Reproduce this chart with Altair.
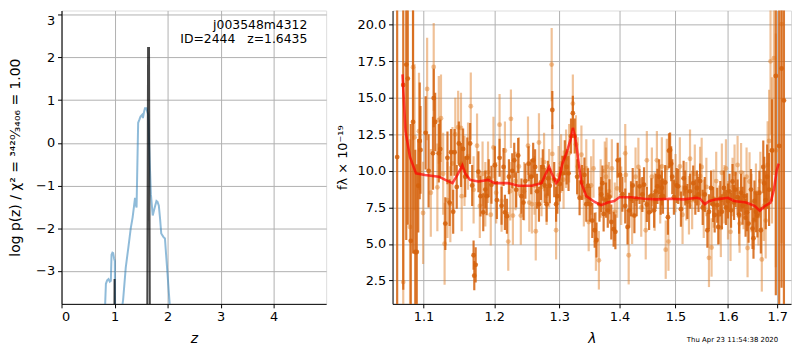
import altair as alt
import pandas as pd

# ---------------- Left panel: p(z) ----------------
pz_z = [0.78, 0.81, 0.837, 0.86, 0.886, 0.91, 0.93, 0.943, 0.96, 0.974, 0.99, 1.005, 1.012, 1.02,
        1.06, 1.10, 1.136, 1.161, 1.211, 1.26, 1.305, 1.34, 1.367, 1.386, 1.40, 1.415, 1.445,
        1.47, 1.49, 1.52, 1.535, 1.555, 1.573, 1.60, 1.615, 1.635, 1.665, 1.685, 1.72, 1.75,
        1.79, 1.81, 1.835, 1.86, 1.88, 1.92, 1.95, 2.04, 2.06]
pz_logp = [-6.0, -4.2, -3.30, -3.22, -3.19, -3.25, -3.23, -2.62, -2.57, -2.58, -2.70, -2.77, -4.5, -6.0,
           -7.0, -6.0, -3.9, -3.68, -2.92, -2.45, -2.0, -1.75, -1.48, -1.29, -1.45, -1.51, 0.47,
           0.55, 0.62, 0.66, 0.58, 0.72, 0.81, 0.81, 0.74, 0.66, -0.5, -1.2, -1.70, -1.55,
           -1.36, -1.38, -1.47, -1.8, -2.12, -2.2, -2.24, -3.78, -4.5]

fine_z = [0.99, 1.0, 1.01, 1.612, 1.632, 1.650, 1.670]
fine_logp = [-6.0, -3.19, -6.0, -6.0, 2.22, 2.22, -6.0]
fine_grp = [0, 0, 0, 1, 1, 1, 1]

label_lines = ["j003548m4312", "ID=2444\u00a0\u00a0\u00a0z=1.6435"]

# ---------------- Right panel: spectrum ----------------
wave_a = [1.065, 1.073, 1.077, 1.079, 1.083, 1.086, 1.089, 1.091, 1.093, 1.095, 1.096, 1.103, 1.107,
          1.113, 1.114, 1.116, 1.121, 1.123, 1.130, 1.133, 1.136, 1.138, 1.141, 1.143, 1.146, 1.149,
          1.152, 1.155, 1.158, 1.161, 1.165, 1.168, 1.170, 1.171, 1.173, 1.177, 1.180, 1.184, 1.187,
          1.189, 1.192, 1.196, 1.201, 1.204, 1.208, 1.211, 1.214, 1.216, 1.219, 1.222, 1.227, 1.230,
          1.233, 1.236, 1.241, 1.244, 1.247, 1.252, 1.256, 1.259, 1.262, 1.265, 1.268, 1.271, 1.274,
          1.277, 1.280, 1.282, 1.285, 1.289, 1.292, 1.295, 1.297, 1.301, 1.305, 1.309, 1.312, 1.315,
          1.319, 1.322, 1.325, 1.329, 1.333, 1.337, 1.341, 1.344, 1.347, 1.350, 1.354, 1.358, 1.361,
          1.366, 1.369, 1.371, 1.373, 1.377, 1.380, 1.383, 1.386, 1.390, 1.393, 1.397, 1.401, 1.405,
          1.410, 1.414, 1.417, 1.420, 1.423, 1.426, 1.430, 1.435, 1.440, 1.443, 1.448, 1.452, 1.456,
          1.461, 1.464, 1.467, 1.470, 1.473, 1.475, 1.477, 1.481, 1.486, 1.488, 1.490, 1.492, 1.494,
          1.497, 1.502, 1.505, 1.510, 1.515, 1.518, 1.522, 1.527, 1.533, 1.537, 1.540, 1.543, 1.546,
          1.551, 1.555, 1.560, 1.563, 1.567, 1.571, 1.574, 1.579, 1.581, 1.585, 1.588, 1.592, 1.596,
          1.600, 1.603, 1.606, 1.609, 1.612, 1.615, 1.619, 1.622, 1.626, 1.629, 1.633, 1.635, 1.638,
          1.641, 1.646, 1.649, 1.651, 1.653, 1.656, 1.659, 1.663, 1.666, 1.671, 1.673, 1.676, 1.679,
          1.683, 1.689, 1.697, 1.704, 1.709, 1.714]
flux_a = [10.94, 15.87, 17.27, 16.31, 5.21, 13.34, 4.45, 4.45, 8.98, 12.05, 11.43, 12.60, 10.0,
          11.20, 14.98, 13.34, 11.20, 11.49, 6.39, 10.89, 7.83, 11.27, 7.2, 11.27, 8.9, 11.87,
          10.4, 11.5, 9.6, 10.89, 11.87, 9.0, 4.23, 2.83, 3.57, 9.94, 8.27, 7.16, 8.72,
          8.27, 9.5, 9.05, 10.38, 8.0, 10.89, 7.61, 10.27, 7.16, 6.90, 9.6, 10.0, 10.72,
          8.7, 11.05, 8.27, 7.83, 9.3, 10.49, 9.6, 10.72, 10.27, 8.6, 7.72, 9.2, 10.27,
          9.0, 7.72, 9.49, 8.98, 14.16, 9.4, 7.72, 8.27, 9.1, 9.83, 10.9, 10.27, 9.83,
          12.38, 13.94, 12.38, 9.6, 8.16, 9.2, 9.72, 7.72, 8.98, 7.72, 6.6, 5.94, 5.27,
          7.72, 8.38, 9.16, 7.05, 8.0, 7.3, 8.23, 6.50, 6.01, 5.83, 10.72, 9.72, 8.4,
          7.6, 6.16, 7.3, 8.09, 9.0, 6.94, 8.1, 8.94, 8.38, 9.05, 7.7, 7.16, 8.3,
          7.3, 8.6, 8.94, 9.60, 8.2, 8.83, 8.27, 9.2, 6.83, 11.38, 11.43, 10.49, 9.60,
          8.2, 9.0, 8.94, 7.38, 9.49, 8.83, 7.9, 8.6, 9.16, 8.2, 8.83, 8.38, 9.3,
          7.5, 8.38, 5.94, 7.2, 8.83, 7.7, 6.98, 7.65, 6.16, 8.1, 7.2, 8.83, 7.5,
          7.94, 8.6, 7.3, 9.27, 7.83, 8.72, 8.2, 7.0, 8.5, 7.61, 8.27, 6.80, 7.16,
          6.39, 8.72, 6.05, 5.39, 7.94, 7.2, 6.94, 8.5, 5.94, 10.27, 9.16, 8.0, 9.60,
          8.72, 11.4, 16.49, 11.7, 17.0, 14.82]
err_a = [14, 14, 12, 10, 8, 9, 7, 6, 3.2, 4, 3, 2.5, 2.5,
         2.5, 2.0, 2.0, 2.0, 2.0, 1.8, 1.8, 1.6, 1.6, 1.5, 1.6, 1.5, 1.5,
         1.5, 1.4, 1.4, 1.4, 1.4, 1.4, 1.0, 1.0, 1.2, 1.4, 1.4, 1.3, 1.3,
         1.3, 1.3, 1.3, 1.3, 1.3, 1.3, 1.3, 1.3, 1.2, 1.2, 1.2, 1.2, 1.2,
         1.2, 1.2, 1.2, 1.2, 1.2, 1.2, 1.2, 1.2, 1.2, 1.2, 1.2, 1.2, 1.2,
         1.2, 1.2, 1.2, 1.2, 1.3, 1.2, 1.2, 1.2, 1.2, 1.2, 1.2, 1.2, 1.2,
         1.2, 1.2, 1.2, 1.2, 1.2, 1.2, 1.2, 1.2, 1.2, 1.2, 1.2, 1.2, 1.2,
         1.2, 1.2, 1.2, 1.2, 1.2, 1.2, 1.2, 1.2, 1.2, 1.2, 1.2, 1.2, 1.2,
         1.2, 1.2, 1.2, 1.2, 1.2, 1.2, 1.2, 1.2, 1.2, 1.2, 1.2, 1.2, 1.2,
         1.2, 1.2, 1.2, 1.2, 1.2, 1.2, 1.2, 1.2, 1.2, 1.2, 1.2, 1.2, 1.2,
         1.2, 1.2, 1.2, 1.2, 1.2, 1.2, 1.2, 1.2, 1.2, 1.2, 1.2, 1.2, 1.2,
         1.2, 1.2, 1.2, 1.2, 1.2, 1.2, 1.2, 1.2, 1.2, 1.2, 1.2, 1.2, 1.2,
         1.2, 1.2, 1.2, 1.2, 1.2, 1.2, 1.2, 1.3, 1.3, 1.3, 1.3, 1.3, 1.3,
         1.3, 1.4, 1.4, 1.4, 1.4, 1.4, 1.5, 1.5, 1.6, 1.8, 1.8, 2.0, 2.2,
         2.5, 3.5, 15, 15, 15, 15]

wave_b = [1.073, 1.082, 1.086, 1.088, 1.094, 1.0995, 1.105, 1.110, 1.114, 1.119, 1.121, 1.124,
          1.127, 1.129, 1.133, 1.137, 1.140, 1.144, 1.148, 1.152, 1.153, 1.157, 1.162, 1.166,
          1.170, 1.175, 1.179, 1.183, 1.187, 1.191, 1.195, 1.199, 1.203, 1.208, 1.211, 1.216,
          1.221, 1.224, 1.225, 1.228, 1.232, 1.237, 1.240, 1.245, 1.251, 1.253, 1.257, 1.261,
          1.263, 1.268, 1.272, 1.276, 1.280, 1.284, 1.288, 1.289, 1.295, 1.299, 1.303, 1.307,
          1.311, 1.316, 1.322, 1.327, 1.330, 1.336, 1.340, 1.344, 1.348, 1.352, 1.356, 1.360,
          1.365, 1.368, 1.375, 1.377, 1.378, 1.382, 1.387, 1.392, 1.396, 1.403, 1.410, 1.411,
          1.416, 1.422, 1.428, 1.433, 1.438, 1.446, 1.448, 1.457, 1.462, 1.466, 1.472, 1.475,
          1.482, 1.484, 1.487, 1.500, 1.508, 1.513, 1.520, 1.525, 1.527, 1.531, 1.536, 1.546,
          1.549, 1.553, 1.558, 1.563, 1.568, 1.572, 1.577, 1.583, 1.586, 1.588, 1.593, 1.596,
          1.600, 1.605, 1.609, 1.613, 1.619, 1.622, 1.623, 1.626, 1.631, 1.637, 1.639, 1.643,
          1.647, 1.652, 1.656, 1.661, 1.665, 1.668, 1.672, 1.676, 1.680, 1.683, 1.686, 1.689,
          1.693, 1.697, 1.709]
flux_b = [2.39, 6.16, 17.09, 12.3, 12.71, 7.12, 15.60, 8.50, 17.11, 8.87, 13.49, 13.60,
          9.8, 5.01, 8.0, 7.72, 10.5, 12.5, 12.98, 12.94, 8.27, 10.0, 11.0, 14.42,
          8.7, 11.72, 7.6, 9.8, 8.4, 9.9, 7.0, 11.60, 8.5, 13.16, 7.94, 11.38,
          5.16, 8.61, 13.56, 6.94, 9.3, 10.3, 6.94, 8.6, 11.72, 7.83, 7.72, 9.0,
          5.87, 11.94, 8.9, 10.6, 8.3, 9.5, 17.27, 11.16, 5.94, 9.7, 10.5, 9.4,
          10.83, 11.2, 14.60, 11.8, 10.3, 11.1, 8.2, 10.16, 6.50, 9.0, 10.16, 5.16,
          3.88, 8.8, 10.0, 9.6, 10.27, 8.6, 10.16, 7.2, 8.8, 8.3, 11.20, 9.72,
          4.23, 7.0, 9.6, 10.27, 7.5, 5.94, 10.72, 9.6, 7.9, 10.72, 8.4, 10.3,
          4.61, 10.2, 5.16, 9.16, 10.3, 7.0, 8.6, 7.65, 10.83, 8.0, 9.8, 9.65,
          10.27, 7.4, 8.9, 4.05, 4.76, 8.1, 9.3, 7.0, 6.1, 9.87, 8.4, 10.16,
          7.3, 5.83, 8.9, 9.8, 10.4, 6.9, 6.39, 9.9, 8.0, 9.6, 4.72, 9.27,
          7.8, 6.6, 8.5, 6.9, 9.3, 3.94, 7.6, 6.60, 10.4, 12.05, 17.49, 11.4,
          17.71, 11.4, 20.04]
err_b = [10, 6, 5, 5, 4, 3.5, 3.5, 3, 3, 3, 3, 3,
         2.8, 2.8, 2.6, 2.6, 2.5, 2.5, 2.5, 2.4, 2.4, 2.4, 2.3, 2.3,
         2.3, 2.2, 2.2, 2.2, 2.2, 2.1, 2.1, 2.1, 2.1, 2.1, 2.1, 2.0,
         2.0, 2.0, 2.0, 2.0, 2.0, 2.0, 2.0, 2.0, 2.0, 2.0, 2.0, 2.0,
         2.0, 2.0, 2.0, 2.0, 2.0, 2.0, 2.5, 2.0, 2.0, 2.0, 2.0, 2.0,
         2.0, 2.0, 2.0, 2.0, 2.0, 2.0, 2.0, 2.0, 2.0, 2.0, 2.0, 2.0,
         2.0, 2.0, 2.0, 2.0, 2.0, 2.0, 2.0, 2.0, 2.0, 2.0, 2.0, 2.0,
         2.0, 2.0, 2.0, 2.0, 2.0, 2.0, 2.0, 2.0, 2.0, 2.0, 2.0, 2.0,
         2.0, 2.0, 2.0, 2.0, 2.0, 2.0, 2.0, 2.0, 2.0, 2.0, 2.0, 2.0,
         2.0, 2.0, 2.0, 2.0, 2.0, 2.0, 2.0, 2.0, 2.0, 2.0, 2.0, 2.0,
         2.0, 2.0, 2.0, 2.0, 2.0, 2.0, 2.0, 2.0, 2.0, 2.0, 2.0, 2.0,
         2.0, 2.0, 2.0, 2.0, 2.0, 2.2, 2.4, 2.6, 3.0, 3.5, 5, 5,
         8, 8, 15]

model_wave = [1.072, 1.076, 1.082, 1.090, 1.102, 1.121, 1.130, 1.140, 1.147, 1.154, 1.158, 1.165,
              1.177, 1.191, 1.201, 1.221, 1.236, 1.257, 1.272, 1.279, 1.284, 1.288, 1.295, 1.2995,
              1.305, 1.313, 1.319, 1.322, 1.326, 1.331, 1.336, 1.344, 1.358, 1.369, 1.380, 1.391,
              1.400, 1.420, 1.443, 1.467, 1.490, 1.515, 1.540, 1.546, 1.555, 1.564, 1.577, 1.600,
              1.612, 1.636, 1.653, 1.664, 1.673, 1.686, 1.693, 1.699, 1.703]
model_flux = [16.6, 12.71, 10.94, 9.83, 9.72, 9.6, 9.38, 9.16, 9.72, 10.38, 9.83, 9.38,
              9.27, 9.38, 9.16, 9.16, 8.98, 8.98, 9.16, 9.83, 10.27, 9.83, 9.16, 9.38,
              10.49, 11.38, 12.27, 12.94, 12.27, 10.72, 9.16, 8.27, 7.87, 7.65, 7.83, 7.94,
              8.2, 8.2, 8.09, 8.05, 8.09, 8.05, 8.16, 8.09, 7.72, 7.94, 8.05, 8.16,
              7.94, 7.83, 7.61, 7.27, 7.56, 7.83, 8.72, 10.05, 10.49]

timestamp = "Thu Apr 23 11:54:38 2020"

# ---------------- build tables ----------------
pz_df = pd.DataFrame({"z": pz_z, "logp": pz_logp})
fine_df = pd.DataFrame({"z": fine_z, "logp": fine_logp, "g": fine_grp})
lab_df = pd.DataFrame({"t": ["\n".join(label_lines)]})
a_df = pd.DataFrame({"w": wave_a, "f": flux_a, "lo": [f - e for f, e in zip(flux_a, err_a)],
                     "hi": [f + e for f, e in zip(flux_a, err_a)]})
b_df = pd.DataFrame({"w": wave_b, "f": flux_b, "lo": [f - e for f, e in zip(flux_b, err_b)],
                     "hi": [f + e for f, e in zip(flux_b, err_b)]})
m_df = pd.DataFrame({"w": model_wave, "f": model_flux})
ts_df = pd.DataFrame({"t": [timestamp]})

FONT = "DejaVu Sans"
LW, LH = 267, 296
RW, RH = 402, 296

axis_common = dict(grid=True, gridColor="#b0b0b0", gridWidth=1, domainColor="black",
                   tickColor="black", tickSize=4, labelColor="black", labelFontSize=13,
                   labelFont=FONT, titleFont=FONT, titleColor="black", titleFontWeight="normal",
                   labelPadding=3)

zx = alt.X("z:Q", scale=alt.Scale(domain=[0, 4.99], nice=False),
           axis=alt.Axis(values=[0, 1, 2, 3, 4], format="d", title="z", titleFontStyle="italic",
                         titleFontSize=14, titlePadding=8, **axis_common))
zy = alt.Y("logp:Q", scale=alt.Scale(domain=[-3.77, 3.1], nice=False),
           axis=alt.Axis(values=[-3, -2, -1, 0, 1, 2, 3], format="d", labelFlush=5,
                         title="log p(z) / χ² = ³⁴²⁰⁄₃₄₀₆ = 1.00", titleFontSize=14,
                         titlePadding=13, **axis_common))

pz_line = alt.Chart(pz_df).mark_line(color="#1f77b4", opacity=0.5, strokeWidth=2, clip=True).encode(
    x=zx, y=zy)
fine_line = alt.Chart(fine_df).mark_line(color="black", opacity=0.72, strokeWidth=2, clip=True).encode(
    x="z:Q", y="logp:Q", detail="g:N")
labels = alt.Chart(lab_df).mark_text(align="right", baseline="middle", fontSize=12.5, font=FONT,
                                     color="black", lineBreak="\n", lineHeight=14).encode(
    x=alt.value(LW - 19), y=alt.value(15), text="t:N")
left = alt.layer(pz_line, fine_line, labels).properties(width=LW, height=LH)

wx = alt.X("w:Q", scale=alt.Scale(type="log", domain=[1.059, 1.729], nice=False),
           axis=alt.Axis(values=[1.1, 1.2, 1.3, 1.4, 1.5, 1.6, 1.7], format=".1f", title="λ",
                         titleFontStyle="italic", titleFontSize=14, titlePadding=8, **axis_common))
fy = alt.Y("f:Q", scale=alt.Scale(domain=[0.9, 20.97], nice=False),
           axis=alt.Axis(values=[2.5, 5, 7.5, 10, 12.5, 15, 17.5, 20], format=".1f",
                         title="fλ × 10⁻¹⁹", titleFontSize=13, titlePadding=8, **axis_common))

LIGHT = "#e2832f"
DARK = "#d5620c"
b_err = alt.Chart(b_df).mark_rule(color=LIGHT, opacity=0.5, strokeWidth=2.2, clip=True).encode(
    x=wx, y=alt.Y("lo:Q", scale=alt.Scale(domain=[0.9, 20.97], nice=False)), y2="hi:Q")
b_pt = alt.Chart(b_df).mark_circle(color=LIGHT, opacity=0.5, size=24, clip=True).encode(x="w:Q", y=fy)
a_err = alt.Chart(a_df).mark_rule(color=DARK, opacity=0.85, strokeWidth=2.2, clip=True).encode(
    x="w:Q", y="lo:Q", y2="hi:Q")
a_pt = alt.Chart(a_df).mark_circle(color=DARK, opacity=0.85, size=24, clip=True).encode(x="w:Q", y="f:Q")
model = alt.Chart(m_df).mark_line(color="red", opacity=0.7, strokeWidth=2.6, clip=True).encode(
    x="w:Q", y="f:Q")
stamp = alt.Chart(ts_df).mark_text(align="right", baseline="middle", fontSize=7, font=FONT,
                                   color="black").encode(
    x=alt.value(RW - 13), y=alt.value(RH + 36), text="t:N")
right = alt.layer(b_err, b_pt, a_err, a_pt, model, stamp).properties(width=RW, height=RH)

chart = alt.hconcat(left, right, spacing=8).properties(
    padding={"left": 0, "top": 0, "right": 0, "bottom": 0}
).configure_view(stroke="black", strokeWidth=1).configure(font=FONT)

chart.save("out.html", embed_options={"renderer": "svg", "actions": False})
